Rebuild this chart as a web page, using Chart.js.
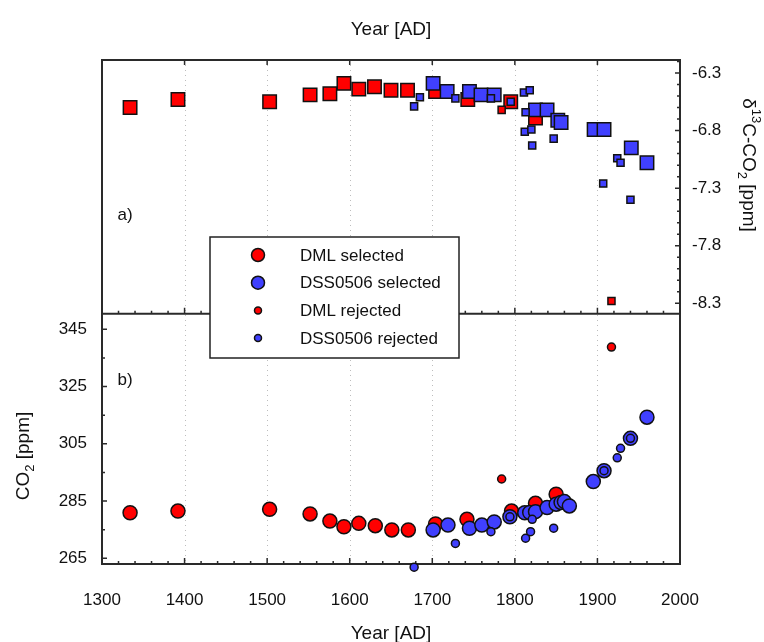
<!DOCTYPE html>
<html>
<head>
<meta charset="utf-8">
<script src="https://cdn.jsdelivr.net/npm/chart.js@4/dist/chart.umd.min.js"></script>
<style>
  html, body { margin: 0; padding: 0; background: #fff; }
  #wrap { position: relative; width: 764px; height: 642px; }
</style>
</head>
<body>
<div id="wrap"><canvas id="myChart" width="764" height="642"></canvas></div>
<script>
// ---- panel a) delta13C-CO2 (squares) ----
const dmlSelYearA  = [1334, 1392, 1503, 1552, 1576, 1593, 1611, 1630, 1650, 1670, 1704, 1743, 1795, 1825];
const dmlSelD13C   = [-6.60, -6.53, -6.55, -6.49, -6.48, -6.39, -6.44, -6.42, -6.45, -6.45, -6.46, -6.53, -6.55, -6.69];
const dmlRejYearA  = [1784, 1917];
const dmlRejD13C   = [-6.62, -8.28];
const dssSelYearA  = [1701, 1718, 1745, 1759, 1775, 1825, 1839, 1852, 1856, 1896, 1908, 1941, 1960];
const dssSelD13C   = [-6.39, -6.46, -6.46, -6.49, -6.49, -6.62, -6.62, -6.71, -6.73, -6.79, -6.79, -6.95, -7.08];
const dssRejYearA  = [1678, 1685, 1728, 1771, 1795, 1811, 1818, 1813, 1812, 1820, 1821, 1847, 1924, 1928, 1907, 1940];
const dssRejD13C   = [-6.59, -6.51, -6.52, -6.52, -6.55, -6.47, -6.45, -6.64, -6.81, -6.79, -6.93, -6.87, -7.04, -7.08, -7.26, -7.40];

// ---- panel b) CO2 (circles) ----
const dmlSelYearB  = [1334, 1392, 1503, 1552, 1576, 1593, 1611, 1631, 1651, 1671, 1704, 1742, 1796, 1825, 1850];
const dmlSelCO2    = [280.9, 281.5, 282.1, 280.5, 278.0, 276.0, 277.2, 276.4, 274.9, 274.9, 277.0, 278.6, 281.5, 284.2, 287.4];
const dmlRejYearB  = [1784, 1917];
const dmlRejCO2    = [292.7, 338.8];
const dssSelYearB  = [1701, 1719, 1745, 1760, 1775, 1794, 1812, 1818, 1825, 1839, 1850, 1856, 1860, 1866, 1895, 1908, 1940, 1960];
const dssSelCO2    = [274.9, 276.6, 275.5, 276.6, 277.7, 279.5, 280.9, 281.0, 281.3, 282.7, 283.9, 284.5, 284.8, 283.3, 291.8, 295.6, 306.9, 314.3];
const dssRejYearB  = [1678, 1728, 1771, 1794, 1813, 1819, 1821, 1847, 1908, 1924, 1928, 1940];
const dssRejCO2    = [261.9, 270.2, 274.3, 279.5, 272.0, 274.3, 278.6, 275.5, 295.6, 300.1, 303.4, 306.9];

// ---- axes ----
const yearTicks = [1300, 1400, 1500, 1600, 1700, 1800, 1900, 2000];
const co2Ticks  = [265, 285, 305, 325, 345];
const d13cTicks = [-6.3, -6.8, -7.3, -7.8, -8.3];
const legendLabels = ['DML selected', 'DSS0506 selected', 'DML rejected', 'DSS0506 rejected'];

const RED = '#ff0000';
const BLUE = '#4040ff';
const FONT = '"Liberation Sans", Arial, sans-serif';
Chart.defaults.font.family = FONT;

const pts = (xs, ys) => xs.map((x, i) => ({ x: x, y: ys[i] }));

function ds(label, xs, ys, axis, color, style, r) {
  return {
    label: label,
    data: pts(xs, ys),
    yAxisID: axis,
    showLine: false,
    pointStyle: style,
    pointRadius: r,
    pointHoverRadius: r,
    pointBackgroundColor: color,
    pointBorderColor: '#111',
    pointBorderWidth: 1.5,
    clip: false
  };
}

// first dataset is drawn on top
const datasets = [
  ds('DSS0506 rejected', dssRejYearB, dssRejCO2, 'yCO2', BLUE, 'circle', 4),
  ds('DML rejected', dmlRejYearB, dmlRejCO2, 'yCO2', RED, 'circle', 4),
  ds('DSS0506 selected', dssSelYearB, dssSelCO2, 'yCO2', BLUE, 'circle', 7),
  ds('DML selected', dmlSelYearB, dmlSelCO2, 'yCO2', RED, 'circle', 7),
  ds('DSS0506 rejected a', dssRejYearA, dssRejD13C, 'yD13C', BLUE, 'rect', 5),
  ds('DML rejected a', dmlRejYearA, dmlRejD13C, 'yD13C', RED, 'rect', 5),
  ds('DSS0506 selected a', dssSelYearA, dssSelD13C, 'yD13C', BLUE, 'rect', 9.5),
  ds('DML selected a', dmlSelYearA, dmlSelD13C, 'yD13C', RED, 'rect', 9.5)
];

// text with sub/superscripts, centred on (cx, cy), rotated by angle
function richText(ctx, parts, cx, cy, angle, size) {
  ctx.save();
  ctx.translate(cx, cy);
  ctx.rotate(angle);
  ctx.textBaseline = 'alphabetic';
  ctx.textAlign = 'left';
  ctx.fillStyle = '#111';
  let total = 0;
  parts.forEach(p => {
    ctx.font = (p.small ? Math.round(size * 0.68) : size) + 'px ' + FONT;
    p.w = ctx.measureText(p.t).width;
    total += p.w;
  });
  let x = -total / 2;
  const base = size * 0.36;
  parts.forEach(p => {
    ctx.font = (p.small ? Math.round(size * 0.68) : size) + 'px ' + FONT;
    ctx.fillText(p.t, x, base + (p.dy || 0));
    x += p.w;
  });
  ctx.restore();
}

const decor = {
  id: 'decor',
  beforeDatasetsDraw(chart) {
    const ctx = chart.ctx;
    const a = chart.chartArea;
    const sx = chart.scales.x, sc = chart.scales.yCO2, sd = chart.scales.yD13C;
    const split = sd.getPixelForValue(-8.39);

    // dotted vertical grid
    ctx.save();
    ctx.strokeStyle = '#bdbdbd';
    ctx.lineWidth = 1;
    ctx.setLineDash([1, 4]);
    for (let v = 1400; v <= 1900; v += 100) {
      const px = Math.round(sx.getPixelForValue(v)) + 0.5;
      ctx.beginPath(); ctx.moveTo(px, a.top); ctx.lineTo(px, a.bottom); ctx.stroke();
    }
    ctx.restore();

    // frame and divider
    ctx.save();
    ctx.strokeStyle = '#2a2a2a';
    ctx.lineWidth = 2;
    ctx.strokeRect(a.left, a.top, a.right - a.left, a.bottom - a.top);
    ctx.beginPath(); ctx.moveTo(a.left, split); ctx.lineTo(a.right, split); ctx.stroke();

    // ticks
    ctx.lineWidth = 1.5;
    ctx.beginPath();
    for (let v = 1300; v <= 2000; v += 20) {
      const px = sx.getPixelForValue(v);
      const major = v % 100 === 0;
      const len = major ? 6 : 3;
      ctx.moveTo(px, a.bottom); ctx.lineTo(px, a.bottom - len);
      ctx.moveTo(px, split); ctx.lineTo(px, split - len);
      if (major) { ctx.moveTo(px, a.top); ctx.lineTo(px, a.top + 5); }
    }
    for (let v = 265; v <= 345; v += 10) {
      const py = sc.getPixelForValue(v);
      const len = (v - 265) % 20 === 0 ? 5 : 3;
      ctx.moveTo(a.left, py); ctx.lineTo(a.left + len, py);
    }
    for (let k = 0; k <= 21; k++) {
      const v = -8.3 + k * 0.1;
      const py = sd.getPixelForValue(v);
      const len = k % 5 === 0 ? 5 : 3;
      ctx.moveTo(a.right, py); ctx.lineTo(a.right - len, py);
    }
    ctx.stroke();
    ctx.restore();
  },
  afterDraw(chart) {
    const ctx = chart.ctx;
    const a = chart.chartArea;
    const cxPlot = (a.left + a.right) / 2;

    // axis titles
    richText(ctx, [{ t: 'Year [AD]' }], cxPlot, 28, 0, 19);
    richText(ctx, [{ t: 'Year [AD]' }], cxPlot, 632, 0, 19);
    richText(ctx, [{ t: 'CO' }, { t: '2', small: true, dy: 5 }, { t: ' [ppm]' }], 22, 456, -Math.PI / 2, 19);
    richText(ctx, [{ t: 'δ' }, { t: '13', small: true, dy: -9 }, { t: 'C-CO' }, { t: '2', small: true, dy: 5 },
      { t: ' [ppm]' }], 750, 165, Math.PI / 2, 19);

    // panel labels
    richText(ctx, [{ t: 'a)' }], 125, 214, 0, 17);
    richText(ctx, [{ t: 'b)' }], 125, 379, 0, 17);

    // legend
    const lx = 210, ly = 237, lw = 249, lh = 121;
    ctx.save();
    ctx.fillStyle = '#fff';
    ctx.fillRect(lx, ly, lw, lh);
    ctx.strokeStyle = '#222';
    ctx.lineWidth = 1.5;
    ctx.strokeRect(lx, ly, lw, lh);
    const rows = [
      { color: RED, r: 6.5 }, { color: BLUE, r: 6.5 },
      { color: RED, r: 3.5 }, { color: BLUE, r: 3.5 }
    ];
    rows.forEach((row, i) => {
      const y = 255 + i * 27.7;
      ctx.beginPath();
      ctx.arc(258, y, row.r, 0, Math.PI * 2);
      ctx.fillStyle = row.color;
      ctx.fill();
      ctx.lineWidth = 1.5;
      ctx.strokeStyle = '#111';
      ctx.stroke();
      ctx.fillStyle = '#111';
      ctx.font = '17px ' + FONT;
      ctx.textBaseline = 'middle';
      ctx.textAlign = 'left';
      ctx.fillText(legendLabels[i], 300, y + 1);
    });
    ctx.restore();
  }
};

new Chart('myChart', {
  type: 'scatter',
  data: { datasets: datasets },
  options: {
    responsive: false,
    animation: false,
    devicePixelRatio: 1,
    layout: { padding: { top: 60, left: 0, right: 0, bottom: 0 } },
    plugins: { legend: { display: false }, tooltip: { enabled: false } },
    scales: {
      x: {
        type: 'linear', position: 'bottom', min: 1300, max: 2000,
        grid: { display: false }, border: { display: false },
        afterBuildTicks: s => { s.ticks = yearTicks.map(v => ({ value: v })); },
        afterFit: s => { s.height = 78; },
        ticks: { padding: 18, color: '#111', font: { size: 17 }, maxRotation: 0, autoSkip: false,
          callback: v => String(v) }
      },
      yCO2: {
        type: 'linear', position: 'left', min: 263.0, max: 439.1,
        grid: { display: false }, border: { display: false },
        afterBuildTicks: s => { s.ticks = co2Ticks.map(v => ({ value: v })); },
        afterFit: s => { s.width = 102; },
        ticks: { padding: 7, color: '#111', font: { size: 17 }, autoSkip: false, callback: v => String(v) }
      },
      yD13C: {
        type: 'linear', position: 'right', min: -10.564, max: -6.187,
        grid: { display: false }, border: { display: false },
        afterBuildTicks: s => { s.ticks = d13cTicks.map(v => ({ value: v })); },
        afterFit: s => { s.width = 84; },
        ticks: { padding: 4, color: '#111', font: { size: 17 }, autoSkip: false, callback: v => v.toFixed(1) }
      }
    }
  },
  plugins: [decor]
});
</script>
</body>
</html>
